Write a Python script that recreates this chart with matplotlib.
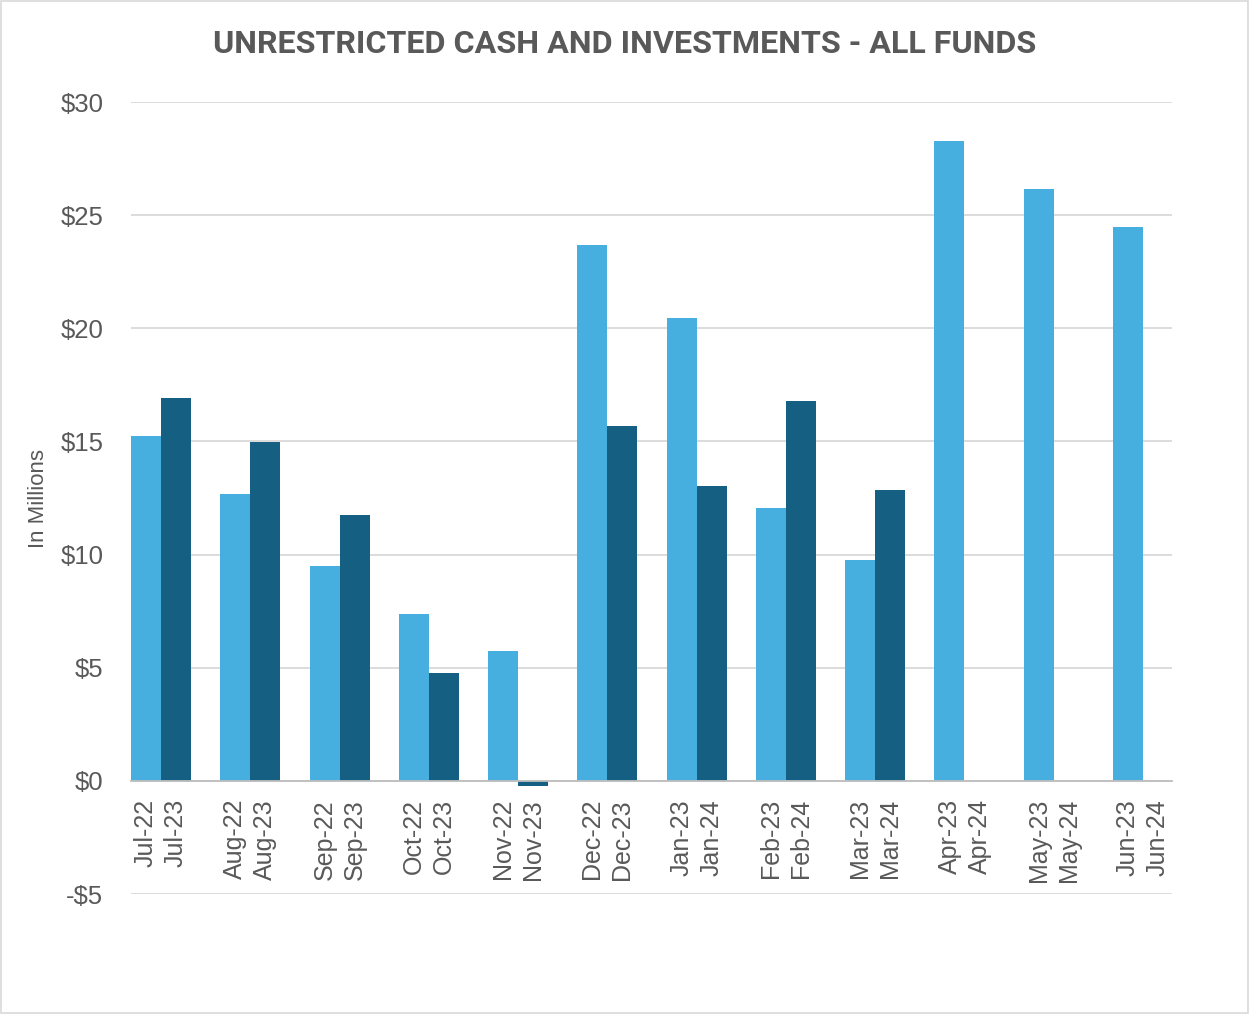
import matplotlib.pyplot as plt
import numpy as np
from matplotlib.patches import Rectangle

# data in millions
months = ['Jul', 'Aug', 'Sep', 'Oct', 'Nov', 'Dec', 'Jan', 'Feb', 'Mar', 'Apr', 'May', 'Jun']
labels_fy23 = ['Jul-22', 'Aug-22', 'Sep-22', 'Oct-22', 'Nov-22', 'Dec-22',
               'Jan-23', 'Feb-23', 'Mar-23', 'Apr-23', 'May-23', 'Jun-23']
labels_fy24 = ['Jul-23', 'Aug-23', 'Sep-23', 'Oct-23', 'Nov-23', 'Dec-23',
               'Jan-24', 'Feb-24', 'Mar-24', 'Apr-24', 'May-24', 'Jun-24']
fy23 = [15.25, 12.68, 9.5, 7.38, 5.74, 23.69, 20.46, 12.06, 9.77, 28.28, 26.16, 24.48]
fy24 = [16.92, 14.98, 11.75, 4.77, -0.22, 15.69, 13.04, 16.79, 12.86, np.nan, np.nan, np.nan]
yticks = [-5, 0, 5, 10, 15, 20, 25, 30]
ytick_labels = ['-$5', '$0', '$5', '$10', '$15', '$20', '$25', '$30']

light = '#47afe0'
dark = '#156082'
gray = '#595959'

plt.rcParams['font.family'] = ['Liberation Sans', 'DejaVu Sans']

fig = plt.figure(figsize=(12.49, 10.14), dpi=100)
ax = fig.add_axes([0.1049, 0.1183, 0.8335, 0.7811])

# move the axis line to zero first (this resets the ticks)
for s in ['top', 'right', 'left']:
    ax.spines[s].set_visible(False)
ax.spines['bottom'].set_position(('data', 0))
ax.spines['bottom'].set_color('#bfbfbf')
ax.spines['bottom'].set_linewidth(1.3)
ax.spines['bottom'].set_zorder(4)

x = np.arange(len(months))
w = 0.336
ax.bar(x - w / 2, fy23, width=w, color=light, zorder=3)
ax.bar(x + w / 2, fy24, width=w, color=dark, zorder=3)

ax.set_ylim(-5, 30)
ax.set_xlim(-0.336, 11.325)
ax.set_yticks(yticks)
ax.set_yticklabels(ytick_labels, fontsize=18.5, color=gray)
ax.yaxis.grid(True, color='#d9d9d9', linewidth=1.3, zorder=0)
ax.tick_params(axis='y', length=0, pad=20)

tick_pos = np.concatenate([x - w / 2, x + w / 2])
tick_lab = labels_fy23 + labels_fy24
ax.set_xticks(tick_pos)
ax.set_xticklabels(tick_lab, rotation=90, fontsize=18, color=gray, va='top', ha='center')
ax.tick_params(axis='x', length=0, pad=13)

ax.set_ylabel('In Millions', fontsize=16, color=gray)
ax.yaxis.set_label_coords(-0.0785, 0.50)

fig.text(0.5, 0.957, 'UNRESTRICTED CASH AND INVESTMENTS - ALL FUNDS', ha='center', va='center',
         fontsize=23.2, fontweight='bold', color=gray, family=['Roboto', 'DejaVu Sans'])

fig.patches.append(Rectangle((0.001, 0.001), 0.998, 0.998, transform=fig.transFigure,
                             fill=False, edgecolor='#d9d9d9', linewidth=1.2))

fig.savefig('out.png', dpi=100)
